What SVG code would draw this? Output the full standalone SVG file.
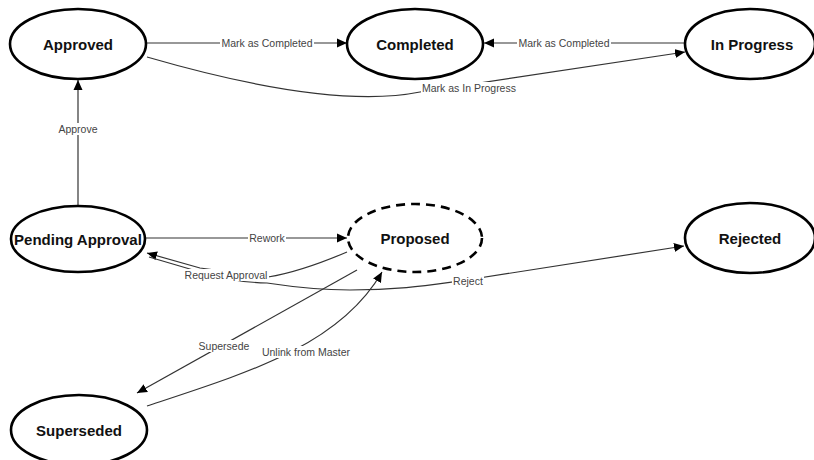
<svg xmlns="http://www.w3.org/2000/svg" width="814" height="460" viewBox="0 0 814 460">
<defs>
<marker id="arr" viewBox="0 0 10 10" refX="10" refY="5" markerWidth="10" markerHeight="10" markerUnits="userSpaceOnUse" orient="auto">
<path d="M0,0.5 L10,5 L0,9.5 Z" fill="#000"/>
</marker>
<style>
.node{fill:#fff;stroke:#000;stroke-width:2.6}
.dashed{stroke-dasharray:9 6}
.ntext{font-family:"Liberation Sans",Arial,sans-serif;font-weight:bold;font-size:15px;fill:#111;text-anchor:middle;dominant-baseline:central}
.edge{fill:none;stroke:#333;stroke-width:1.2;marker-end:url(#arr)}
.lb{fill:#fff}
.lbl{font-family:"Liberation Sans",Arial,sans-serif;font-size:10.5px;fill:#444;text-anchor:middle;dominant-baseline:central}
</style>
</defs>
<rect width="814" height="460" fill="#fff"/>
<g id="connectors">
<path class="edge" d="M146,43 L347,43"/>
<path class="edge" d="M685,43 L484,43"/>
<path class="edge" d="M147,57 Q330,110 420,92 L685,52"/>
<path class="edge" d="M78,206 L78,80"/>
<path class="edge" d="M145,238 L347,238"/>
<path class="edge" d="M347,252 Q300,272 268,277 L200,268 L147,253"/>
<path class="edge" d="M149,257 L200,272 Q230,282 267,283 C300,288 330,290 350,290 C400,290 430,285 460,281 L684,246"/>
<path class="edge" d="M357,270 L137,393"/>
<path class="edge" d="M147,406 C250,372 340,345 382,272"/>
<rect class="lb" x="220" y="37" width="94" height="12"/>
<text class="lbl" x="267" y="43">Mark as Completed</text>
<rect class="lb" x="517" y="37" width="94" height="12"/>
<text class="lbl" x="564" y="43">Mark as Completed</text>
<rect class="lb" x="421" y="82" width="97" height="12"/>
<text class="lbl" x="469" y="88">Mark as In Progress</text>
<rect class="lb" x="57" y="123" width="42" height="12"/>
<text class="lbl" x="78" y="129">Approve</text>
<rect class="lb" x="248" y="232" width="38" height="12"/>
<text class="lbl" x="267" y="238">Rework</text>
<rect class="lb" x="184" y="269" width="85" height="12"/>
<text class="lbl" x="226" y="275">Request Approval</text>
<rect class="lb" x="452" y="275" width="32" height="12"/>
<text class="lbl" x="468" y="281">Reject</text>
<rect class="lb" x="198" y="340" width="53" height="12"/>
<text class="lbl" x="224" y="346">Supersede</text>
<rect class="lb" x="261" y="346" width="90" height="12"/>
<text class="lbl" x="306" y="352">Unlink from Master</text>
</g>
<g id="approved"><ellipse class="node" cx="78" cy="44" rx="68" ry="35"/><text class="ntext" x="78" y="44">Approved</text></g>
<g id="completed"><ellipse class="node" cx="415" cy="44" rx="68" ry="35"/><text class="ntext" x="415" y="44">Completed</text></g>
<g id="in-progress"><ellipse class="node" cx="750" cy="44" rx="65" ry="35"/><text class="ntext" x="752" y="44">In Progress</text></g>
<g id="pending-approval"><ellipse class="node" cx="78" cy="239" rx="67" ry="33"/><text class="ntext" x="78" y="239">Pending Approval</text></g>
<g id="proposed"><ellipse class="node dashed" cx="415" cy="238" rx="67" ry="34"/><text class="ntext" x="415" y="238">Proposed</text></g>
<g id="rejected"><ellipse class="node" cx="750" cy="238" rx="65" ry="35"/><text class="ntext" x="750" y="238">Rejected</text></g>
<g id="superseded"><ellipse class="node" cx="79" cy="430" rx="68" ry="35"/><text class="ntext" x="79" y="430">Superseded</text></g>
</svg>
